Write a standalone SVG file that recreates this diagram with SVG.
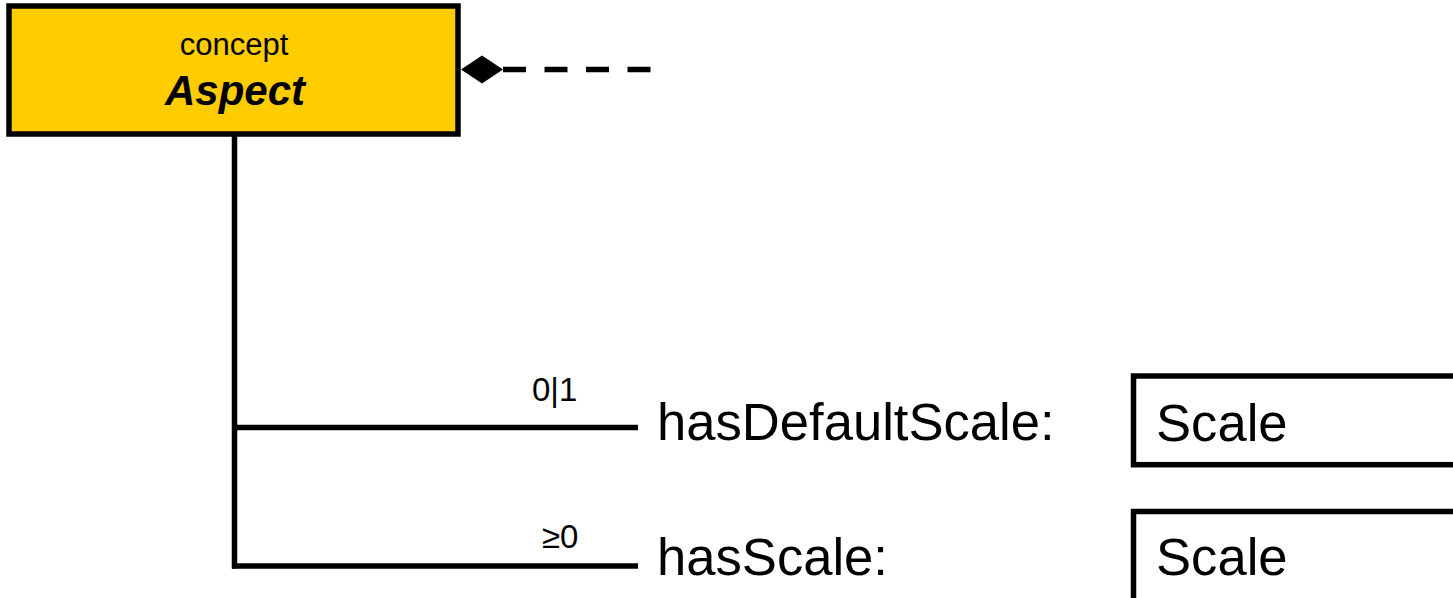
<svg xmlns="http://www.w3.org/2000/svg" width="1453" height="598" viewBox="0 0 1453 598">
  <style>
    .txt { font-family: "Liberation Sans", Arial, sans-serif; fill: #000; }
    .line { stroke: #000; stroke-width: 5.5; fill: none; }
    .box { stroke: #000; stroke-width: 5.5; }
  </style>
  <rect width="1453" height="598" fill="#fff"/>

  <!-- connectors -->
  <g id="connectors">
    <!-- composition link from Aspect (dashed continuation) -->
    <path d="M461,69.5 L482,55.5 L503,69.5 L482,83.5 Z" fill="#000"/>
    <line class="line" x1="503" y1="69.5" x2="651" y2="69.5" stroke-dasharray="23 18.5"/>
    <!-- property tree -->
    <line class="line" x1="234.5" y1="134" x2="234.5" y2="568.5"/>
    <line class="line" x1="232" y1="427.5" x2="638" y2="427.5"/>
    <line class="line" x1="232" y1="566" x2="638" y2="566"/>
    <text class="txt" x="532" y="401" font-size="33">0|1</text>
    <text class="txt" x="542" y="548" font-size="33">≥0</text>
  </g>

  <!-- concept Aspect -->
  <g id="aspect">
    <rect class="box" x="9" y="6" width="449" height="128" fill="#FFCC00"/>
    <text class="txt" x="234" y="55" font-size="31" text-anchor="middle">concept</text>
    <text class="txt" x="235" y="105" font-size="42" font-weight="bold" font-style="italic" text-anchor="middle">Aspect</text>
  </g>

  <!-- property hasDefaultScale -->
  <g id="hasDefaultScale">
    <text class="txt" x="657" y="440" font-size="52.6">hasDefaultScale:</text>
    <rect class="box" x="1133.5" y="376" width="340" height="88.7" fill="#fff"/>
    <text class="txt" x="1156" y="441" font-size="52.6">Scale</text>
  </g>

  <!-- property hasScale -->
  <g id="hasScale">
    <text class="txt" x="657" y="575" font-size="52.6">hasScale:</text>
    <rect class="box" x="1133.5" y="511.5" width="340" height="120" fill="#fff"/>
    <text class="txt" x="1156" y="575" font-size="52.6">Scale</text>
  </g>
</svg>
